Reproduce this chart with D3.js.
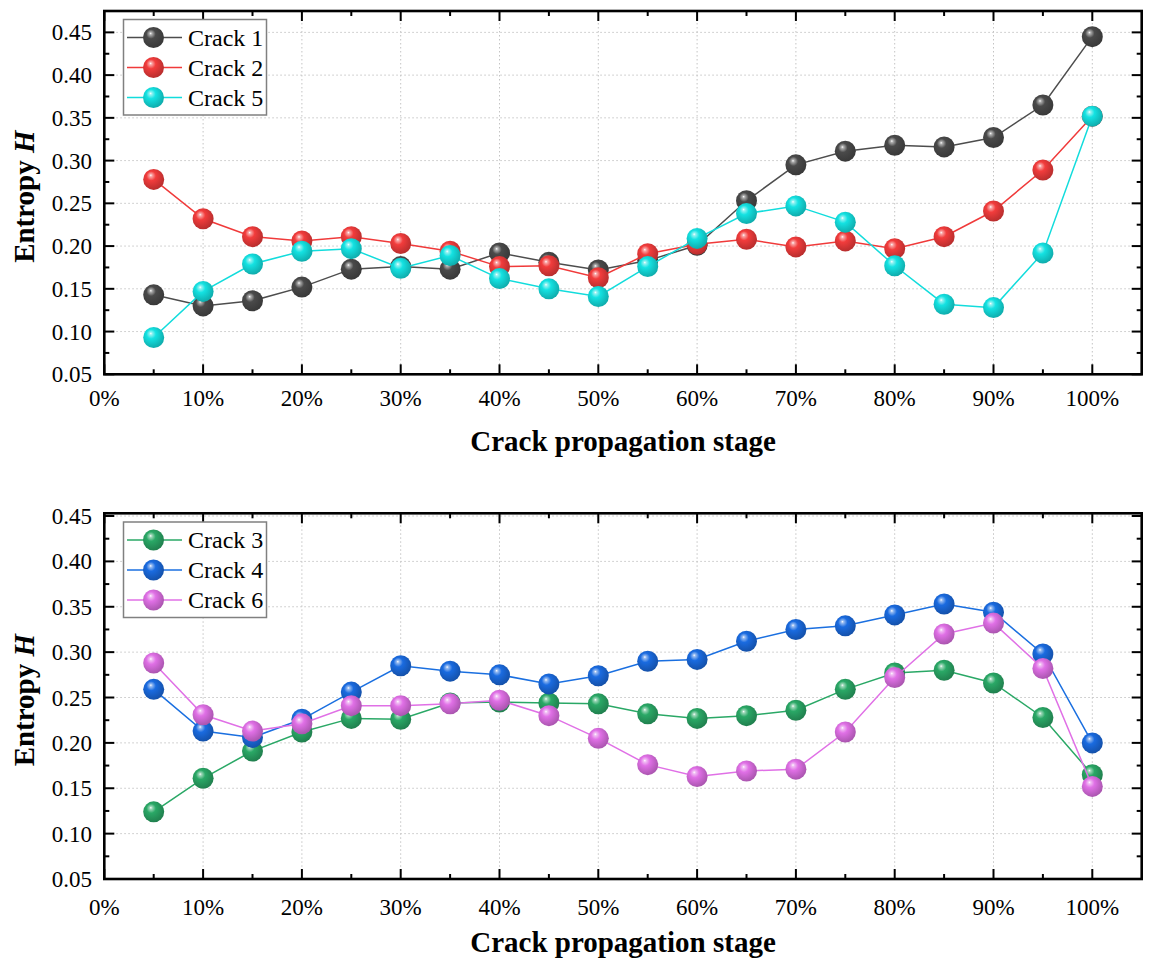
<!DOCTYPE html>
<html>
<head>
<meta charset="utf-8">
<script src="https://cdn.jsdelivr.net/npm/d3@7"></script>
<style>
  body { margin: 0; background: #fff; }
  svg { display: block; }
  text { font-family: "Liberation Serif", "Times New Roman", serif; fill: #000; }
</style>
</head>
<body>
<svg id="chart"></svg>
<script>
// crack propagation stage (%)
var stages = [5, 10, 15, 20, 25, 30, 35, 40, 45, 50, 55, 60, 65, 70, 75, 80, 85, 90, 95, 100];

// entropy H, top panel
var crack1 = [0.143, 0.130, 0.136, 0.152, 0.173, 0.176, 0.173, 0.192, 0.181, 0.172,
              0.183, 0.201, 0.253, 0.295, 0.311, 0.318, 0.316, 0.327, 0.365, 0.445];
var crack2 = [0.278, 0.232, 0.211, 0.206, 0.211, 0.203, 0.194, 0.176, 0.177, 0.163,
              0.191, 0.202, 0.208, 0.199, 0.206, 0.197, 0.211, 0.241, 0.289, 0.352];
var crack5 = [0.093, 0.147, 0.179, 0.194, 0.197, 0.174, 0.189, 0.162, 0.150, 0.141,
              0.176, 0.209, 0.238, 0.247, 0.228, 0.177, 0.132, 0.128, 0.192, 0.352];

// entropy H, bottom panel
var crack3 = [0.124, 0.161, 0.191, 0.212, 0.227, 0.226, 0.244, 0.245, 0.244, 0.243,
              0.232, 0.227, 0.230, 0.236, 0.259, 0.277, 0.280, 0.266, 0.228, 0.165];
var crack4 = [0.259, 0.213, 0.206, 0.226, 0.256, 0.285, 0.279, 0.275, 0.265, 0.274,
              0.290, 0.292, 0.312, 0.325, 0.329, 0.341, 0.353, 0.344, 0.298, 0.200];
var crack6 = [0.288, 0.231, 0.213, 0.221, 0.241, 0.241, 0.243, 0.247, 0.230, 0.205,
              0.176, 0.163, 0.169, 0.171, 0.212, 0.272, 0.320, 0.332, 0.282, 0.152];

var xTicks = [0, 10, 20, 30, 40, 50, 60, 70, 80, 90, 100];
var xMinor = [5, 15, 25, 35, 45, 55, 65, 75, 85, 95];
var yTicks = [0.05, 0.10, 0.15, 0.20, 0.25, 0.30, 0.35, 0.40, 0.45];
var yMinor = [0.075, 0.125, 0.175, 0.225, 0.275, 0.325, 0.375, 0.425];

var W = 1150, H = 959;
var svg = d3.select("#chart").attr("width", W).attr("height", H);
var defs = svg.append("defs");

// sphere-like marker fill
function sphere(id, base) {
  var c = d3.color(base);
  var g = defs.append("radialGradient")
    .attr("id", id)
    .attr("cx", "42%").attr("cy", "40%").attr("r", "62%")
    .attr("fx", "36%").attr("fy", "30%");
  g.append("stop").attr("offset", "0%").attr("stop-color", "#ffffff");
  g.append("stop").attr("offset", "10%").attr("stop-color", d3.interpolateRgb(base, "#fff")(0.55));
  g.append("stop").attr("offset", "36%").attr("stop-color", base);
  g.append("stop").attr("offset", "100%").attr("stop-color", c.darker(0.8).formatHex());
  return "url(#" + id + ")";
}

var panels = [
  {
    top: 11, bottom: 374.3, yMax: 0.475, labelDy: 32, titleY: 451,
    legendTop: 19.5,
    series: [
      { name: "Crack 1", values: crack1, line: "#4d4d4d", fill: "#4a4a4a" },
      { name: "Crack 2", values: crack2, line: "#f03a3a", fill: "#f23c3c" },
      { name: "Crack 5", values: crack5, line: "#12dcdc", fill: "#14e2e2" }
    ]
  },
  {
    top: 513.3, bottom: 879, yMax: 0.453, labelDy: 36, titleY: 952,
    legendTop: 522,
    series: [
      { name: "Crack 3", values: crack3, line: "#2aa866", fill: "#2aa866" },
      { name: "Crack 4", values: crack4, line: "#1a6fe0", fill: "#1a6be0" },
      { name: "Crack 6", values: crack6, line: "#e070e6", fill: "#e070e6" }
    ]
  }
];

var left = 104.3, right = 1141.7;
var mIdx = 0;

panels.forEach(function(p) {
  var x = d3.scaleLinear().domain([0, 105]).range([left, right]);
  var y = d3.scaleLinear().domain([0.05, p.yMax]).range([p.bottom, p.top]);
  var g = svg.append("g");

  // dotted grid
  g.selectAll(".vgrid").data(xTicks.slice(1)).enter().append("line")
    .attr("x1", function(d) { return x(d); }).attr("x2", function(d) { return x(d); })
    .attr("y1", p.top).attr("y2", p.bottom)
    .style("stroke", "#c4c4c4").style("stroke-width", 1).style("stroke-dasharray", "1.5,2.5");
  g.selectAll(".hgrid").data(yTicks.slice(1)).enter().append("line")
    .attr("x1", left).attr("x2", right)
    .attr("y1", function(d) { return y(d); }).attr("y2", function(d) { return y(d); })
    .style("stroke", "#c4c4c4").style("stroke-width", 1).style("stroke-dasharray", "1.5,2.5");

  // ticks on all four sides, pointing inside
  var tickStyle = function(sel) {
    sel.style("stroke", "#000").style("stroke-width", 2);
  };
  [[xTicks, 10], [xMinor, 5]].forEach(function(t) {
    g.selectAll(null).data(t[0]).enter().append("line")
      .attr("x1", function(d) { return x(d); }).attr("x2", function(d) { return x(d); })
      .attr("y1", p.bottom).attr("y2", p.bottom - t[1]).call(tickStyle);
    g.selectAll(null).data(t[0]).enter().append("line")
      .attr("x1", function(d) { return x(d); }).attr("x2", function(d) { return x(d); })
      .attr("y1", p.top).attr("y2", p.top + t[1]).call(tickStyle);
  });
  [[yTicks, 10], [yMinor, 5]].forEach(function(t) {
    g.selectAll(null).data(t[0]).enter().append("line")
      .attr("x1", left).attr("x2", left + t[1])
      .attr("y1", function(d) { return y(d); }).attr("y2", function(d) { return y(d); }).call(tickStyle);
    g.selectAll(null).data(t[0]).enter().append("line")
      .attr("x1", right).attr("x2", right - t[1])
      .attr("y1", function(d) { return y(d); }).attr("y2", function(d) { return y(d); }).call(tickStyle);
  });

  // frame
  g.append("rect")
    .attr("x", left).attr("y", p.top)
    .attr("width", right - left).attr("height", p.bottom - p.top)
    .style("fill", "none").style("stroke", "#000").style("stroke-width", 2.6);

  // tick labels
  g.selectAll(".xl").data(xTicks).enter().append("text")
    .attr("x", function(d) { return x(d); })
    .attr("y", p.bottom + p.labelDy)
    .style("font-size", "23px").style("text-anchor", "middle")
    .text(function(d) { return d + "%"; });
  g.selectAll(".yl").data(yTicks).enter().append("text")
    .attr("x", 92).attr("y", function(d) { return y(d); })
    .attr("dy", "0.35em")
    .style("font-size", "23px").style("text-anchor", "end")
    .text(function(d) { return d3.format(".2f")(d); });

  // axis titles
  g.append("text")
    .attr("x", (left + right) / 2).attr("y", p.titleY)
    .style("font-size", "29px").style("font-weight", "bold").style("text-anchor", "middle")
    .text("Crack propagation stage");
  var yt = g.append("text")
    .attr("transform", "translate(34," + ((p.top + p.bottom) / 2 + 4) + ") rotate(-90)")
    .style("font-size", "29px").style("font-weight", "bold").style("text-anchor", "middle");
  yt.append("tspan").text("Entropy ");
  yt.append("tspan").style("font-style", "italic").text("H");

  // series
  var line = d3.line()
    .x(function(d) { return x(d[0]); })
    .y(function(d) { return y(d[1]); });

  p.series.forEach(function(s) {
    s.grad = sphere("sph" + (mIdx++), s.fill);
    var pts = stages.map(function(st, i) { return [st, s.values[i]]; });
    g.append("path")
      .datum(pts)
      .attr("d", line)
      .style("fill", "none").style("stroke", s.line).style("stroke-width", 1.5);
    g.selectAll(null).data(pts).enter().append("circle")
      .attr("cx", function(d) { return x(d[0]); })
      .attr("cy", function(d) { return y(d[1]); })
      .attr("r", 10.5)
      .style("fill", s.grad);
  });

  // legend
  var lg = g.append("g");
  lg.append("rect")
    .attr("x", 123.5).attr("y", p.legendTop)
    .attr("width", 143).attr("height", 95.5)
    .style("fill", "#fff").style("stroke", "#808080").style("stroke-width", 1.5);
  var item = lg.selectAll(".item").data(p.series).enter().append("g")
    .attr("transform", function(d, i) {
      return "translate(0," + (p.legendTop + 18 + i * 30) + ")";
    });
  item.append("line")
    .attr("x1", 127).attr("x2", 182).attr("y1", 0).attr("y2", 0)
    .style("stroke", function(d) { return d.line; }).style("stroke-width", 1.5);
  item.append("circle")
    .attr("cx", 153.5).attr("cy", 0).attr("r", 10.5)
    .style("fill", function(d) { return d.grad; });
  item.append("text")
    .attr("x", 188).attr("y", 0).attr("dy", "0.35em")
    .style("font-size", "24px")
    .text(function(d) { return d.name; });
});
</script>
</body>
</html>
